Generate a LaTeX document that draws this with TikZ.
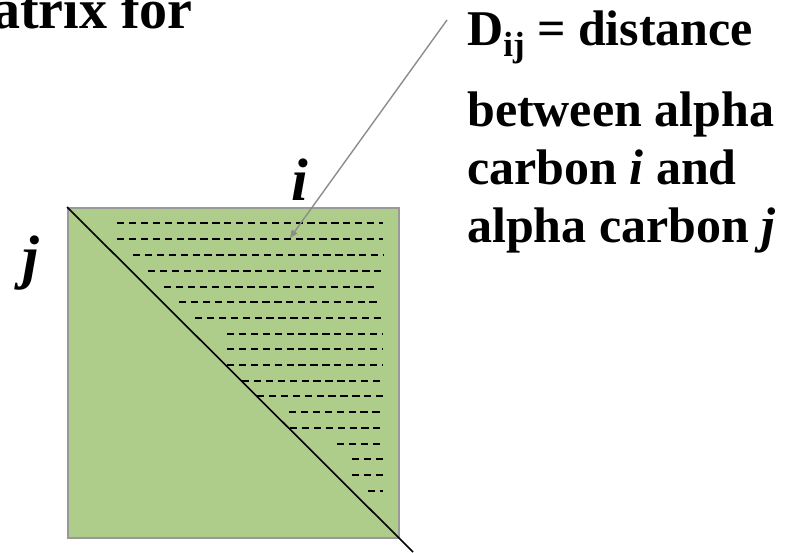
\documentclass[tikz,border=0pt]{standalone}
\usepackage{fontspec}
\setmainfont{Liberation Serif}
\usetikzlibrary{arrows.meta}
\definecolor{matgreen}{RGB}{174,205,139}
\definecolor{matborder}{RGB}{153,153,153}
\definecolor{arrgray}{RGB}{140,140,140}
\tikzset{
  bigtext/.style={inner sep=0pt, anchor=base west, font=\fontsize{50}{58}\selectfont\bfseries},
  idxlabel/.style={inner sep=0pt, anchor=base west, font=\fontsize{60}{60}\selectfont\bfseries\itshape},
  titletext/.style={inner sep=0pt, anchor=base west, font=\fontsize{56}{60}\selectfont\bfseries},
  matrixbox/.style={fill=matgreen, draw=matborder, line width=2pt},
  diagline/.style={draw=black, line width=1.6pt},
  dashrow/.style={draw=black, line width=2pt, dash pattern=on 7.3pt off 4.6pt},
  pointer/.style={draw=arrgray, line width=1.4pt, -{Triangle[length=8pt,width=6.5pt]}}
}
\begin{document}
\begin{tikzpicture}[x=1pt,y=-1pt]
\useasboundingbox (0,0) rectangle (799,552);
% title fragment (cut off at the top-left edge, as in the reference)
\node[titletext] (title) at (-8,28) {atrix for};
% matrix square
\node[matrixbox, minimum width=331pt, minimum height=330pt, inner sep=0pt, anchor=north west] (mat) at (67,207) {};
% dashed rows (upper triangle entries)
\foreach \yy/\xa/\xb in {223/117/383, 239/117/383, 255/133/383, 271/148/383, 286.5/164/378,
  302/179/380, 318/195/382, 333.5/227/383, 349/227/383, 365/227/383, 380.5/242/383,
  396/257/383, 412/289/380, 428/290/380, 443.5/337/383, 459/352/383, 475/352/383, 491/368/383}
  \draw[dashrow] (\xa,\yy) -- (\xb,\yy);
% diagonal
\coordinate (dstart) at (mat.north west);
\coordinate (dend) at (413,552);
\draw[diagline] (dstart) -- (dend);
% index labels
\node[idxlabel] (ilab) at (291,200) {i};
\node[idxlabel] (jlab) at (22,277) {j};
% explanation
\node[bigtext] (l1) at (467,45) {D\raisebox{-11pt}{\fontsize{35}{35}\selectfont ij} = distance};
\node[bigtext] (l2) at (467,126) {between alpha};
\node[bigtext] (l3) at (467,184) {carbon \textit{i} and};
\node[bigtext] (l4) at (467,242) {alpha carbon \textit{j}};
% pointer arrow
\coordinate (pstart) at (447,20);
\coordinate (dij) at (290,238);
\draw[pointer] (pstart) -- (dij);
\end{tikzpicture}
\end{document}
